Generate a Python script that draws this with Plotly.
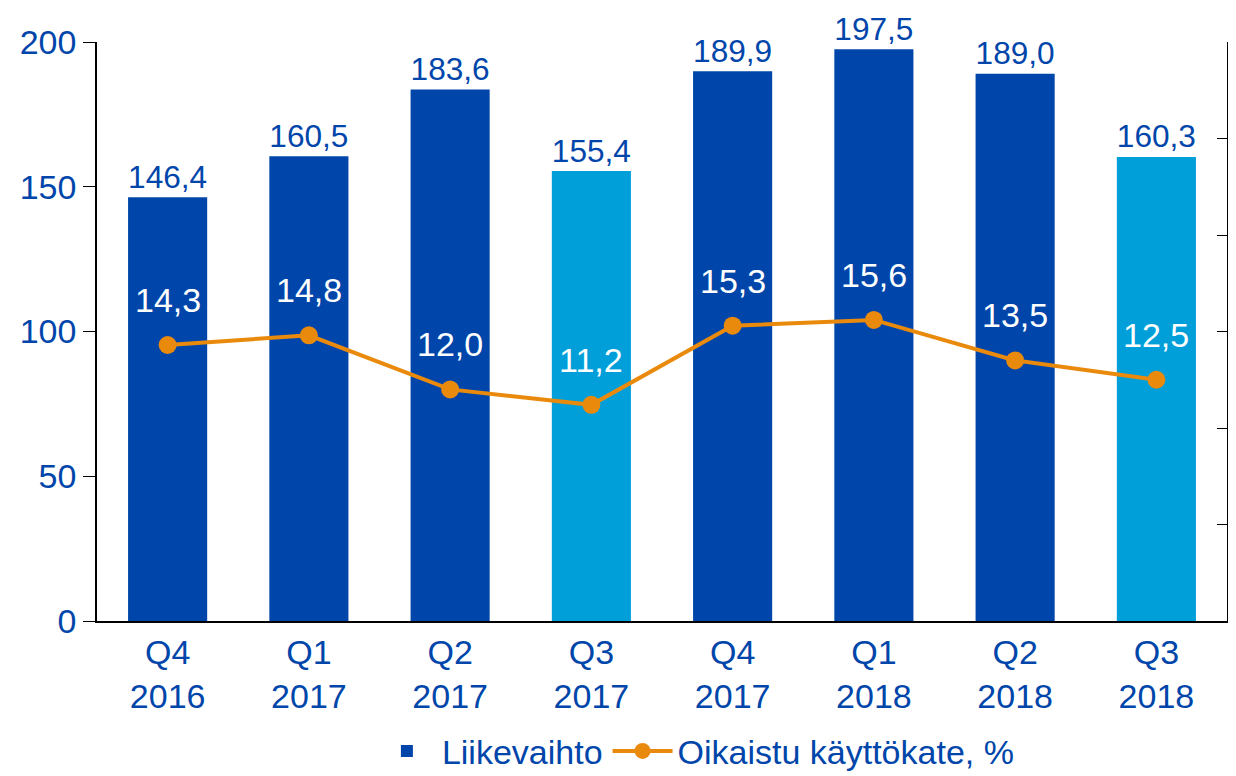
import plotly.graph_objs as go

quarters = ['Q4<br>2016', 'Q1<br>2017', 'Q2<br>2017', 'Q3<br>2017',
            'Q4<br>2017', 'Q1<br>2018', 'Q2<br>2018', 'Q3<br>2018']
liikevaihto = [146.4, 160.5, 183.6, 155.4, 189.9, 197.5, 189.0, 160.3]
kayttokate = [14.3, 14.8, 12.0, 11.2, 15.3, 15.6, 13.5, 12.5]

dark_blue = '#0046AA'
light_blue = '#009FDA'
orange = '#EA8A0C'
bar_colors = [light_blue if q.startswith('Q3') else dark_blue for q in quarters]

FS = 34

fig = go.Figure()

fig.add_trace(go.Bar(
    x=quarters,
    y=liikevaihto,
    name='Liikevaihto',
    marker_color=bar_colors,
    marker_line_width=0,
    width=0.56,
    texttemplate='%{y:.1f}',
    textposition='outside',
    textfont=dict(color=dark_blue, size=FS),
    cliponaxis=False,
    yaxis='y'
))

fig.add_trace(go.Scatter(
    x=quarters,
    y=kayttokate,
    name='Oikaistu käyttökate, %',
    mode='lines+markers',
    line=dict(color=orange, width=4),
    marker=dict(color=orange, size=18),
    yaxis='y2'
))

# white labels above the line points
for q, v in zip(quarters, kayttokate):
    fig.add_annotation(
        x=q, y=v, xref='x', yref='y2',
        text=f'{v:.1f}'.replace('.', ','),
        showarrow=False, yshift=45,
        font=dict(color='white', size=FS)
    )

# page body has an 8px margin, keep the figure inside the window
fig.update_layout(
    width=1221,
    height=768,
    separators=', ',
    plot_bgcolor='white',
    paper_bgcolor='white',
    font=dict(family='Liberation Sans, Arial', color=dark_blue, size=FS),
    margin=dict(l=89, r=2, t=34, b=155, autoexpand=False),
    showlegend=True,
    legend=dict(
        orientation='h',
        x=0.53, xanchor='center',
        y=-0.225, yanchor='middle',
        font=dict(size=FS, color=dark_blue),
        itemwidth=60,
        traceorder='normal'
    ),
    xaxis=dict(
        showline=True, linecolor='black', linewidth=1.5,
        ticks='', tickfont=dict(size=FS, color=dark_blue),
        showgrid=False, automargin=False
    ),
    yaxis=dict(
        range=[0, 200], dtick=50,
        showline=True, linecolor='black', linewidth=1.5,
        ticks='outside', ticklen=12, tickcolor='black',
        tickfont=dict(size=FS, color=dark_blue),
        showgrid=False, zeroline=False, automargin=False
    ),
    yaxis2=dict(
        range=[0, 30], dtick=5, overlaying='y', side='right',
        showline=True, linecolor='black', linewidth=1.5,
        ticks='inside', ticklen=10, tickcolor='black',
        showticklabels=False, showgrid=False, zeroline=False,
        automargin=False
    )
)

fig.write_html('out.html')
